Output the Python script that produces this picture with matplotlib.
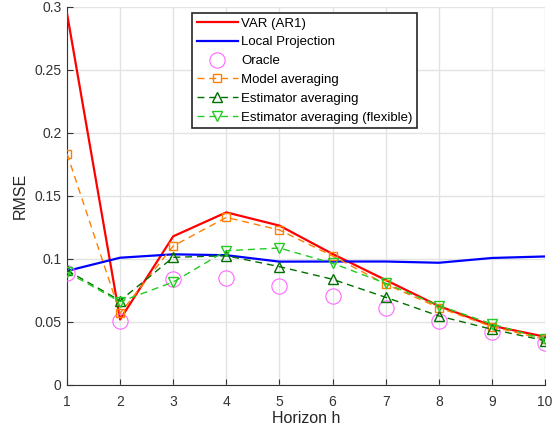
import matplotlib
matplotlib.use("Agg")
import matplotlib.pyplot as plt
import numpy as np

plt.rcParams['font.family'] = ['Liberation Sans', 'DejaVu Sans']

horizons = [1, 2, 3, 4, 5, 6, 7, 8, 9, 10]
var_ar1 = [0.295, 0.052, 0.118, 0.137, 0.1265, 0.104, 0.0833, 0.0627, 0.047, 0.0383]
local_proj = [0.0905, 0.101, 0.1037, 0.103, 0.0979, 0.098, 0.098, 0.097, 0.1008, 0.102]
oracle = [0.089, 0.0508, 0.0839, 0.0852, 0.0788, 0.0706, 0.0614, 0.051, 0.0418, 0.0331]
model_avg = [0.1836, 0.0569, 0.1103, 0.133, 0.123, 0.1024, 0.080, 0.0614, 0.0463, 0.0362]
est_avg = [0.091, 0.0669, 0.1013, 0.1026, 0.0939, 0.0839, 0.0696, 0.0548, 0.0442, 0.0352]
est_avg_flex = [0.0895, 0.0661, 0.0817, 0.1066, 0.1087, 0.0966, 0.0807, 0.063, 0.0484, 0.0363]

fig = plt.figure(figsize=(5.55, 4.36), dpi=100)
ax = fig.add_axes([0.1207, 0.117, 0.982 - 0.1207, 0.984 - 0.117])

dash = (0, (5, 3.5))
ax.plot(horizons, var_ar1, color='#FF0000', lw=1.6, label='VAR (AR1)', zorder=3)
ax.plot(horizons, local_proj, color='#0000FF', lw=1.6, label='Local Projection', zorder=3)
ax.plot(horizons, oracle, ls='none', marker='o', ms=11, mfc='none', mec='#FF66FF',
        mew=0.8, label='Oracle', zorder=3)
ax.plot(horizons, model_avg, color='#FF8000', ls=dash, lw=1.0, marker='s', ms=5.5,
        mfc='none', mew=1.0, label='Model averaging', zorder=3)
ax.plot(horizons, est_avg, color='#007000', ls=dash, lw=1.0, marker='^', ms=7,
        mfc='none', mew=1.0, label='Estimator averaging', zorder=3)
ax.plot(horizons, est_avg_flex, color='#22CC22', ls=dash, lw=1.0, marker='v', ms=7,
        mfc='none', mew=1.0, label='Estimator averaging (flexible)', zorder=3)

ax.set_xlim(1, 10)
ax.set_ylim(0, 0.3)
ax.set_xticks(horizons)
ax.set_yticks([0, 0.05, 0.1, 0.15, 0.2, 0.25, 0.3])
ax.set_yticklabels(['0', '0.05', '0.1', '0.15', '0.2', '0.25', '0.3'])
ax.grid(True, color='#E3E3E3', lw=1.0)
ax.set_axisbelow(True)
for s in ['top', 'right']:
    ax.spines[s].set_visible(False)
for s in ['left', 'bottom']:
    ax.spines[s].set_color('#333333')
    ax.spines[s].set_linewidth(0.8)
ax.tick_params(direction='in', length=4, colors='#333333', labelsize=10)
ax.tick_params(axis='x', pad=7)
ax.tick_params(axis='y', pad=4)
ax.set_xlabel('Horizon h', fontsize=11.5, color='#262626', labelpad=2)
ax.set_ylabel('RMSE', fontsize=11.5, color='#262626', labelpad=5)

leg = ax.legend(loc='upper left', bbox_to_anchor=(0.2615, 0.985), fontsize=9.5,
                fancybox=False, framealpha=1, edgecolor='#262626', handlelength=3.1,
                handletextpad=0.3, borderpad=0.35, labelspacing=0.5, borderaxespad=0)
leg.get_frame().set_linewidth(1.2)

fig.savefig('out.png', dpi=100)
